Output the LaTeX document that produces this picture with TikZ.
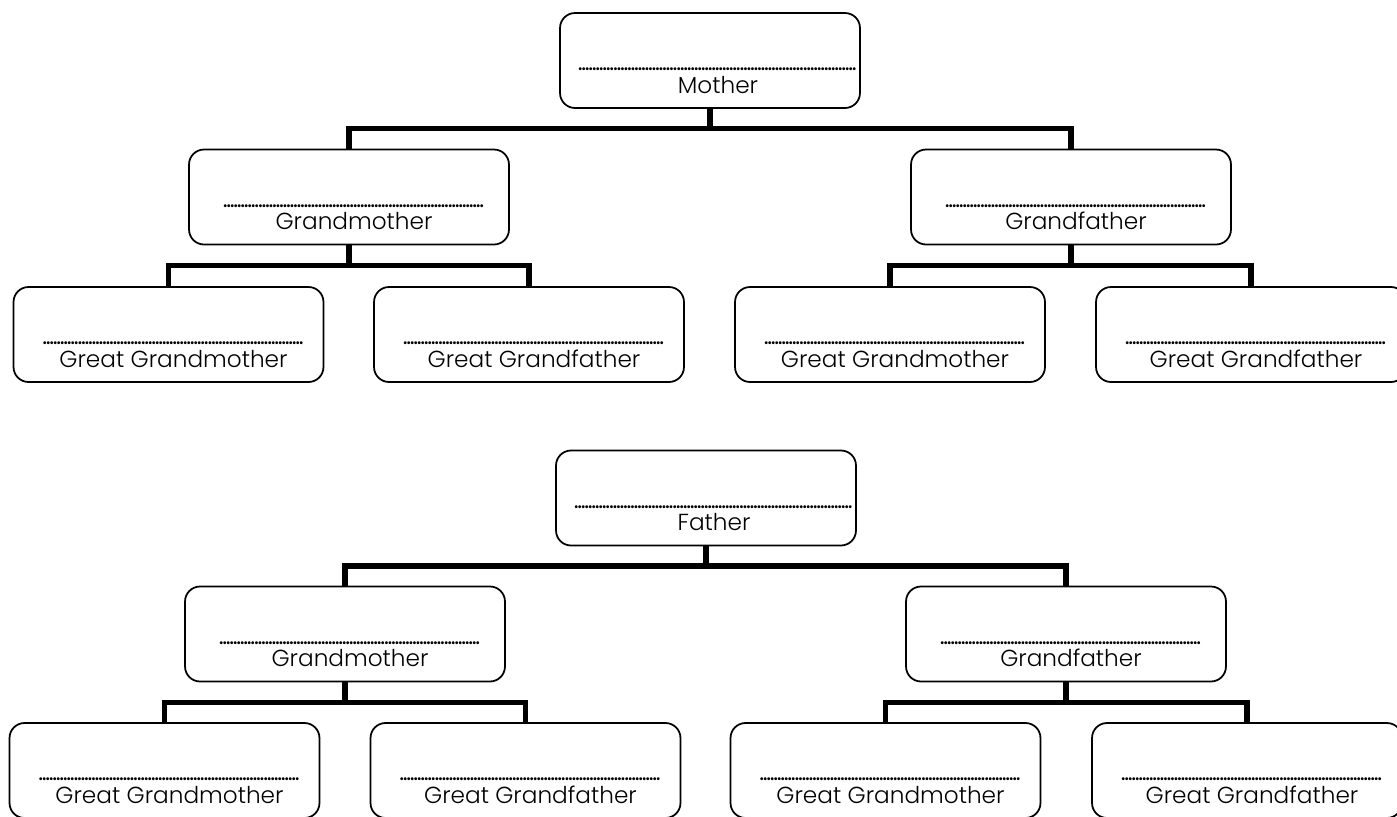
\documentclass[tikz,border=0pt]{standalone}
\usepackage{fontspec}
\setmainfont{Poppins}[UprightFont={* Light}]
\newfontfamily\dotfont{Poppins}
\usetikzlibrary{calc}
\newcommand{\blankrow}[1]{\makebox[#1]{\dotfont\leaders\hbox to 2pt{\hss.\hss}\hfill}}
\tikzset{
  tree box/.style={draw=black, line width=1pt, rounded corners=0.3cm, minimum height=1.9cm, inner sep=0pt},
  parent box/.style={tree box, minimum width=6cm},
  grand box/.style={tree box, minimum width=6.4cm},
  great box/.style={tree box, minimum width=6.2cm},
  tree name/.style={font=\fontsize{13.2}{12.8}\selectfont, align=center, inner sep=0pt, anchor=south},
  tree link/.style={draw=black, line width=3.1pt},
}

\begin{document}
\begin{tikzpicture}[x=0.02cm, y=-0.02cm]
  \useasboundingbox (0,0) rectangle (1397,816);

  % Parents
  \node[parent box] (mother) at (710,60.5) {};
  \node[tree name] (mother-name) at ($(mother.south)+(8,-15)$) {\blankrow{5.58cm}\\Mother};
  \node[parent box] (father) at (706,498) {};
  \node[tree name] (father-name) at ($(father.south)+(8,-15)$) {\blankrow{5.58cm}\\Father};

  % Grandparents
  \foreach \nm/\x/\y/\who in {mgm/349/197/Grandmother, mgf/1071/197/Grandfather,
                              fgm/345/634/Grandmother, fgf/1066/634/Grandfather} {
    \node[grand box] (\nm) at (\x,\y) {};
    \node[tree name] (\nm-name) at ($(\nm.south)+(5,-15)$) {\blankrow{5.22cm}\\\who};
  }

  % Great grandparents
  \foreach \nm/\x/\y/\who in {mggm1/168.5/334.5/Great Grandmother, mggf1/529/334.5/Great Grandfather,
                              mggm2/890/334.5/Great Grandmother, mggf2/1251/334.5/Great Grandfather,
                              fggm1/164.5/770.5/Great Grandmother, fggf1/525.5/770.5/Great Grandfather,
                              fggm2/885.5/770.5/Great Grandmother, fggf2/1247/770.5/Great Grandfather} {
    \node[great box] (\nm) at (\x,\y) {};
    \node[tree name] (\nm-name) at ($(\nm.south)+(5,-15)$) {\blankrow{5.22cm}\\\who};
  }

  % Links from each person to the two above
  \foreach \up/\lt/\rt in {mother/mgm/mgf, mgm/mggm1/mggf1, mgf/mggm2/mggf2,
                           father/fgm/fgf, fgm/fggm1/fggf1, fgf/fggm2/fggf2} {
    \coordinate (\up-bus) at ($(\up.south)!0.5!(\lt.north)$);
    \draw[tree link] (\up.south) -- (\up.south |- \up-bus);
    \draw[tree link] (\lt.north) -- (\lt.north |- \up-bus) -- (\rt.north |- \up-bus) -- (\rt.north);
  }
\end{tikzpicture}
\end{document}
